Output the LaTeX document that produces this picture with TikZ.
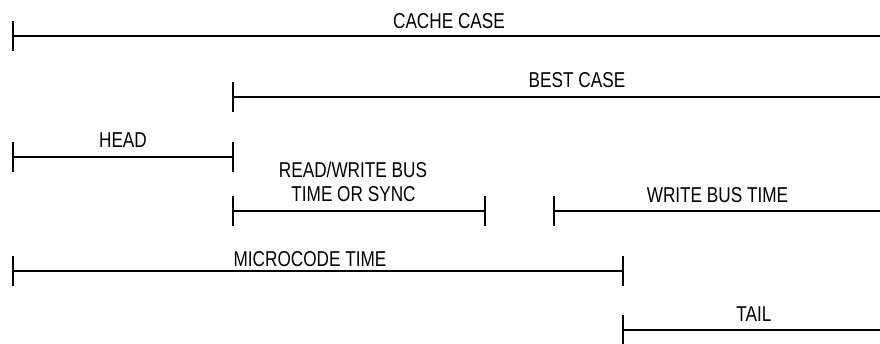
\documentclass[tikz,border=0pt]{standalone}
\usepackage{fontspec}
\newfontfamily\lblfont[FakeStretch=0.8]{Liberation Sans}
\begin{document}
\begin{tikzpicture}[x=1pt,y=-1pt,
  bar/.style={line width=2.4pt,black},
  endtick/.style={line width=1.2pt,black},
  lbl/.style={font=\lblfont\fontsize{21.5}{24}\selectfont,inner sep=0pt,anchor=base}]
\useasboundingbox (0,0) rectangle (880,343);
% endpoints
\coordinate (ccL) at (13,36);   \coordinate (ccR) at (880,36);
\coordinate (bcL) at (233,97);  \coordinate (bcR) at (880,97);
\coordinate (hdL) at (13,157);  \coordinate (hdR) at (233,157);
\coordinate (rwL) at (233,211); \coordinate (rwR) at (485,211);
\coordinate (wbL) at (554,211); \coordinate (wbR) at (880,211);
\coordinate (mcL) at (13,271);  \coordinate (mcR) at (623,271);
\coordinate (tlL) at (623,330); \coordinate (tlR) at (880,330);
% bars
\foreach \s in {cc,bc,hd,rw,wb,mc,tl}{\draw[bar] (\s L) -- (\s R);}
% ticks
\foreach \c in {ccL,bcL,hdL,hdR,rwL,rwR,wbL,mcL,mcR,tlL}{
  \draw[endtick] ([yshift=15pt]\c) -- ([yshift=-15pt]\c);}
% labels
\node[lbl] (cc) at (449,28) {CACHE CASE};
\node[lbl] (bc) at (577,87) {BEST CASE};
\node[lbl] (hd) at (123,147) {HEAD};
\node[lbl] (rw1) at (353,177) {READ/WRITE BUS};
\node[lbl] (rw2) at (353.5,201) {TIME OR SYNC};
\node[lbl] (wb) at (717.5,202) {WRITE BUS TIME};
\node[lbl] (mc) at (310,266.5) {MICROCODE TIME};
\node[lbl] (tl) at (754,321.5) {TAIL};
\end{tikzpicture}
\end{document}
